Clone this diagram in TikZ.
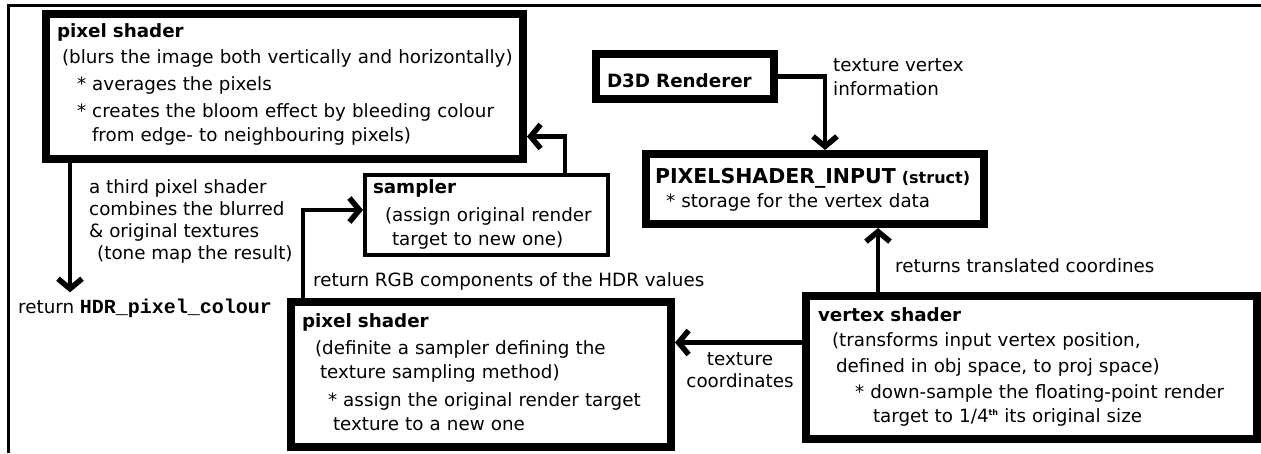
\documentclass[tikz,border=0pt]{standalone}
\usepackage{fontspec}
\setmainfont{DejaVu Sans}
\newfontfamily\codefont{Liberation Mono}
\usetikzlibrary{arrows.meta}

\tikzset{
  box/.style={draw, rectangle, line width=8pt, inner sep=0pt, anchor=north west, align=left},
  thinbox/.style={box, line width=4pt},
  lbl/.style={inner sep=0pt, anchor=base west, align=left},
  arr/.style={line width=4.5pt, -{Straight Barb[length=10pt,width=24pt,line width=5.5pt]}},
}

\begin{document}
\begin{tikzpicture}[x=1pt, y=-1pt, line cap=butt, line join=miter, font=\fontsize{18.3}{24}\selectfont]
        \useasboundingbox (0,0) rectangle (1261,453);

        % frame
        \draw[line width=3pt] (8.5,453) -- (8.5,5.5) -- (1261,5.5);

        % boxes
        \node[box, text width=477pt, text height=23pt, text depth=122pt] (blur) at (42,10) {%
          \hspace*{11pt}\textbf{pixel shader}\\[2pt]
          \hspace*{16pt}(blurs the image both vertically and horizontally)\\[3pt]
          \hspace*{31pt}* averages the pixels\\[3pt]
          \hspace*{31pt}* creates the bloom effect by bleeding colour\\
          \hspace*{46pt}from edge- to neighbouring pixels)};

        \node[thinbox, text width=243pt, text height=18pt, text depth=62pt] (sampler) at (363,173) {%
          \hspace*{8pt}\textbf{sampler}\\[4pt]
          \hspace*{20pt}(assign original render\\
          \hspace*{27pt}target to new one)};

        \node[box, text width=380pt, text height=25pt, text depth=120pt] (sample) at (287,298) {%
          \hspace*{11pt}\textbf{pixel shader}\\[3pt]
          \hspace*{24pt}(definite a sampler defining the\\
          \hspace*{29pt}texture sampling method)\\[4pt]
          \hspace*{37pt}* assign the original render target\\
          \hspace*{42pt}texture to a new one};

        \node[box, text width=178pt, text height=33pt, text depth=12pt] (d3d) at (592,50) {%
          \hspace*{11pt}\textbf{D3D Renderer}};

        \node[box, text width=338pt, text height=29pt, text depth=41pt] (psi) at (642,150) {%
          \hspace*{9pt}{\fontsize{20.5}{24}\selectfont\bfseries PIXELSHADER\_INPUT} {\fontsize{16}{24}\selectfont\bfseries (struct)}\\
          \hspace*{20pt}* storage for the vertex data};

        \node[box, text width=451pt, text height=25pt, text depth=118pt] (vertex) at (802,292) {%
          \hspace*{12pt}\textbf{vertex shader}\\[1pt]
          \hspace*{26pt}(transforms input vertex position,\\[2pt]
          \hspace*{30pt}defined in obj space, to proj space)\\[2pt]
          \hspace*{49pt}* down-sample the floating-point render\\
          \hspace*{67pt}target to 1/4\raisebox{7pt}{\fontsize{8}{8}\selectfont\bfseries th} its original size};

        % labels (multi-line ones sit on their last baseline)
        \node[lbl, font=\fontsize{18.3}{22}\selectfont] (third) at (89,259) {a third pixel shader\\combines the blurred\\\& original textures\\\hspace*{8pt}(tone map the result)};
        \node[lbl] (ret) at (18,313) {return {\codefont\fontsize{20}{24}\selectfont\bfseries HDR\_pixel\_colour}};
        \node[lbl] (rgb) at (313,286) {return RGB components of the HDR values};
        \node[lbl] (vinfo) at (833,95) {texture vertex\\information};
        \node[inner sep=0pt, anchor=base, align=center, font=\fontsize{18.3}{22}\selectfont] (coords) at (740,387) {texture\\coordinates};
        \node[lbl] (transl) at (895,272) {returns translated coordines};

        % connectors
        \draw[arr] ([xshift=28pt]blur.south west) -- ([xshift=28pt,yshift=6pt]blur.south west |- ret.north);
        \draw[arr] ([xshift=16pt]sample.north west) |- ([yshift=5pt]sampler.west);
        \draw[arr] ([xshift=-45pt]sampler.north east) |- ([yshift=-50pt]blur.east);
        \draw[arr] (d3d.east) -| ([xshift=183pt]psi.north west);
        \draw[arr] ([xshift=76pt]vertex.north west) -- ([xshift=76pt]vertex.north west |- psi.south);
        \draw[arr] ([yshift=25pt]vertex.west) -- ([yshift=25pt]vertex.west -| sample.east);

    \end{tikzpicture}
\end{document}
